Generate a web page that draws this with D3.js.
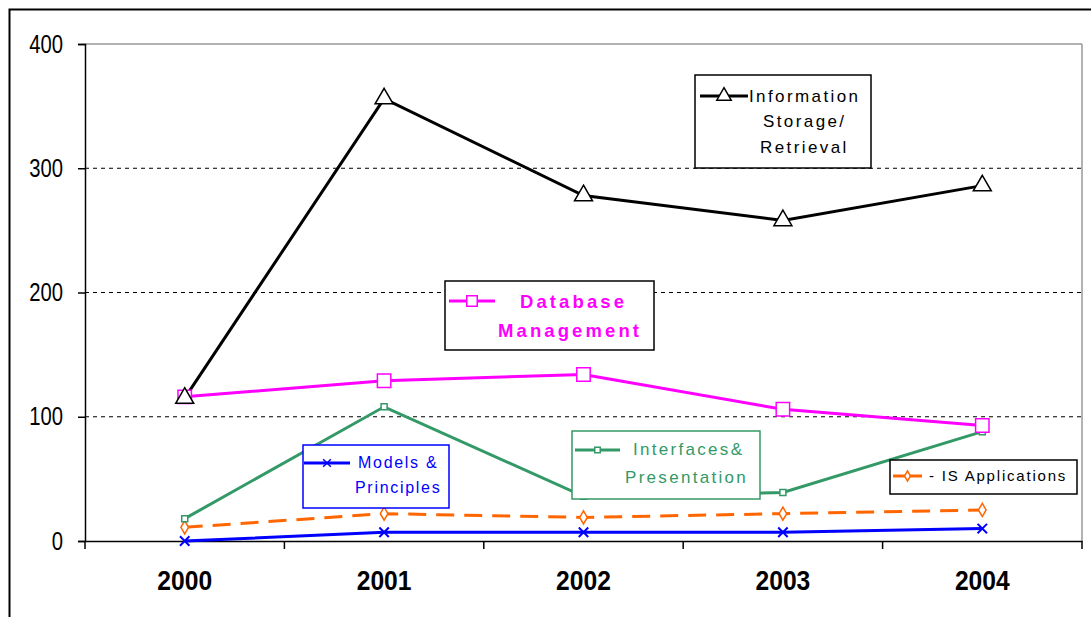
<!DOCTYPE html>
<html><head><meta charset="utf-8">
<script src="https://cdn.jsdelivr.net/npm/d3@7"></script>
<style>body{margin:0;background:#fff}svg{display:block}</style>
</head><body>
<svg id="c" width="1091" height="617"></svg>
<script>
const years = ["2000","2001","2002","2003","2004"];
const yTicks = [0,100,200,300,400];
const infoStorage = [115,356,278,258,286];
const database = [116,129,134,106,93];
const interfaces = [18,108,36,39,88];
const isApps = [11,22,19,22,25];
const models = [0,7,7,7,10];

const svg = d3.select("#c");
const L=85,R=1082,T=44,B=541;
const x = d3.scaleBand().domain(years).range([L,R]);
const y = d3.scaleLinear().domain([0,400]).range([B,T]);
const cx = d => x(d)+x.bandwidth()/2;

// outer frame
svg.append("rect").attr("x",9.5).attr("y",9.5).attr("width",1200).attr("height",800)
  .attr("fill","none").attr("stroke","#000").attr("stroke-width",2);

// plot border top/right (gray)
svg.append("line").attr("x1",L).attr("x2",R).attr("y1",y(400)).attr("y2",y(400)).attr("stroke","#999").attr("stroke-width",1.5);
svg.append("line").attr("x1",R).attr("x2",R).attr("y1",y(400)).attr("y2",B).attr("stroke","#999").attr("stroke-width",1.5);

// gridlines
svg.append("g").selectAll("line").data([100,200,300]).join("line")
  .attr("x1",L).attr("x2",R).attr("y1",d=>y(d)).attr("y2",d=>y(d))
  .attr("stroke","#000").attr("stroke-width",1).attr("stroke-dasharray","4,4");

// y axis
const ysx = 0.81;
const ya = svg.append("g").attr("transform",`translate(${L},0)`)
  .call(d3.axisLeft(y).tickValues(yTicks).tickSize(7).tickPadding(15));
ya.select(".domain").attr("stroke","#000").attr("stroke-width",1.5);
ya.selectAll(".tick line").attr("stroke","#000").attr("stroke-width",1.5);
ya.selectAll("text").attr("font-family","Liberation Sans, Arial, sans-serif").attr("font-size",25).attr("fill","#000")
  .attr("x",-22/ysx).attr("transform",`scale(${ysx},1)`);

// x axis
const xsx = 0.88;
const xa = svg.append("g").attr("transform",`translate(0,${B})`)
  .call(d3.axisBottom(x).tickSize(0).tickPadding(29));
xa.select(".domain").attr("stroke","#000").attr("stroke-width",1.5);
xa.selectAll("text").attr("font-family","Liberation Sans, Arial, sans-serif").attr("font-weight","bold").attr("font-size",28).attr("fill","#000")
  .attr("transform",`scale(${xsx},1)`);
svg.append("g").selectAll("line").data(years.concat(["end"])).join("line")
  .attr("x1",(d,i)=>L+i*x.step()).attr("x2",(d,i)=>L+i*x.step())
  .attr("y1",B).attr("y2",B+8).attr("stroke","#000").attr("stroke-width",1.5);

const line = d3.line().x((d,i)=>cx(years[i])).y(d=>y(d));

function series(data,color,width,dash){
  svg.append("path").datum(data).attr("d",line).attr("fill","none")
    .attr("stroke",color).attr("stroke-width",width).attr("stroke-dasharray",dash||null);
}
series(models,"#0000ff",3);
series(isApps,"#ff6600",3,"18,10");
series(interfaces,"#339966",3);
series(database,"#ff00ff",3);
series(infoStorage,"#000",3);

function markers(data,type,size,color,sw){
  const sym = d3.symbol().type(type).size(size);
  svg.append("g").selectAll("path").data(data).join("path")
    .attr("transform",(d,i)=>`translate(${cx(years[i])},${y(d)})`)
    .attr("d",sym).attr("fill","#fff").attr("stroke",color).attr("stroke-width",sw);
}
markers(models,d3.symbolX,60,"#0000ff",2);
markers(isApps,d3.symbolDiamond,50,"#ff6600",1.5);
markers(interfaces,d3.symbolSquare,36,"#339966",1.5);
markers(database,d3.symbolSquare,180,"#ff00ff",1.5);
markers(infoStorage,d3.symbolTriangle,140,"#000",1.5);

// legend boxes
function legendBox(o){
  const g = svg.append("g");
  g.append("rect").attr("x",o.x).attr("y",o.y).attr("width",o.w).attr("height",o.h)
    .attr("fill","#fff").attr("stroke",o.border).attr("stroke-width",1.5);
  g.append("line").attr("x1",o.lx1).attr("x2",o.lx2).attr("y1",o.ly).attr("y2",o.ly)
    .attr("stroke",o.color).attr("stroke-width",3).attr("stroke-dasharray",o.dash||null);
  g.append("path").attr("transform",`translate(${(o.lx1+o.lx2)/2},${o.ly})`)
    .attr("d",d3.symbol().type(o.sym).size(o.symSize)).attr("fill","#fff").attr("stroke",o.color).attr("stroke-width",1.5);
  o.lines.forEach((t,i)=>{
    g.append("text").attr("x",o.tx[i]).attr("y",o.ty[i]).text(t)
      .attr("font-family","Liberation Sans, Arial, sans-serif").attr("font-size",o.fs)
      .attr("font-weight",o.bold?"bold":"normal").attr("fill",o.textColor)
      .attr("letter-spacing",o.ls||0);
  });
}
legendBox({x:695,y:75,w:176,h:93,border:"#000",color:"#000",lx1:700,lx2:748,ly:96,sym:d3.symbolTriangle,symSize:90,
  lines:["Information","Storage/","Retrieval"],tx:[749,763,760],ty:[102,127,153],fs:17,textColor:"#000",ls:2.4});
legendBox({x:445,y:281,w:209,h:69,border:"#000",color:"#ff00ff",lx1:449,lx2:495,ly:301,sym:d3.symbolSquare,symSize:110,
  lines:["Database","Management"],tx:[520,498],ty:[308,337],fs:18.5,bold:true,textColor:"#ff00ff",ls:3.1});
legendBox({x:303,y:445,w:146,h:63,border:"#0000ff",color:"#0000ff",lx1:304,lx2:350,ly:463,sym:d3.symbolX,symSize:40,
  lines:["Models &","Principles"],tx:[358,355],ty:[468,493],fs:16,textColor:"#0000ff",ls:1.7});
legendBox({x:572,y:431,w:188,h:68,border:"#339966",color:"#339966",lx1:575,lx2:620,ly:450,sym:d3.symbolSquare,symSize:30,
  lines:["Interfaces&","Presentation"],tx:[633,625],ty:[455,483],fs:17,textColor:"#339966",ls:2.3});
legendBox({x:890,y:460,w:187,h:34,border:"#000",color:"#ff6600",lx1:893,lx2:922,ly:476,sym:d3.symbolDiamond,symSize:30,
  lines:["- IS Applications"],tx:[929],ty:[481],fs:15,textColor:"#000",ls:1.8});
</script>
</body></html>
